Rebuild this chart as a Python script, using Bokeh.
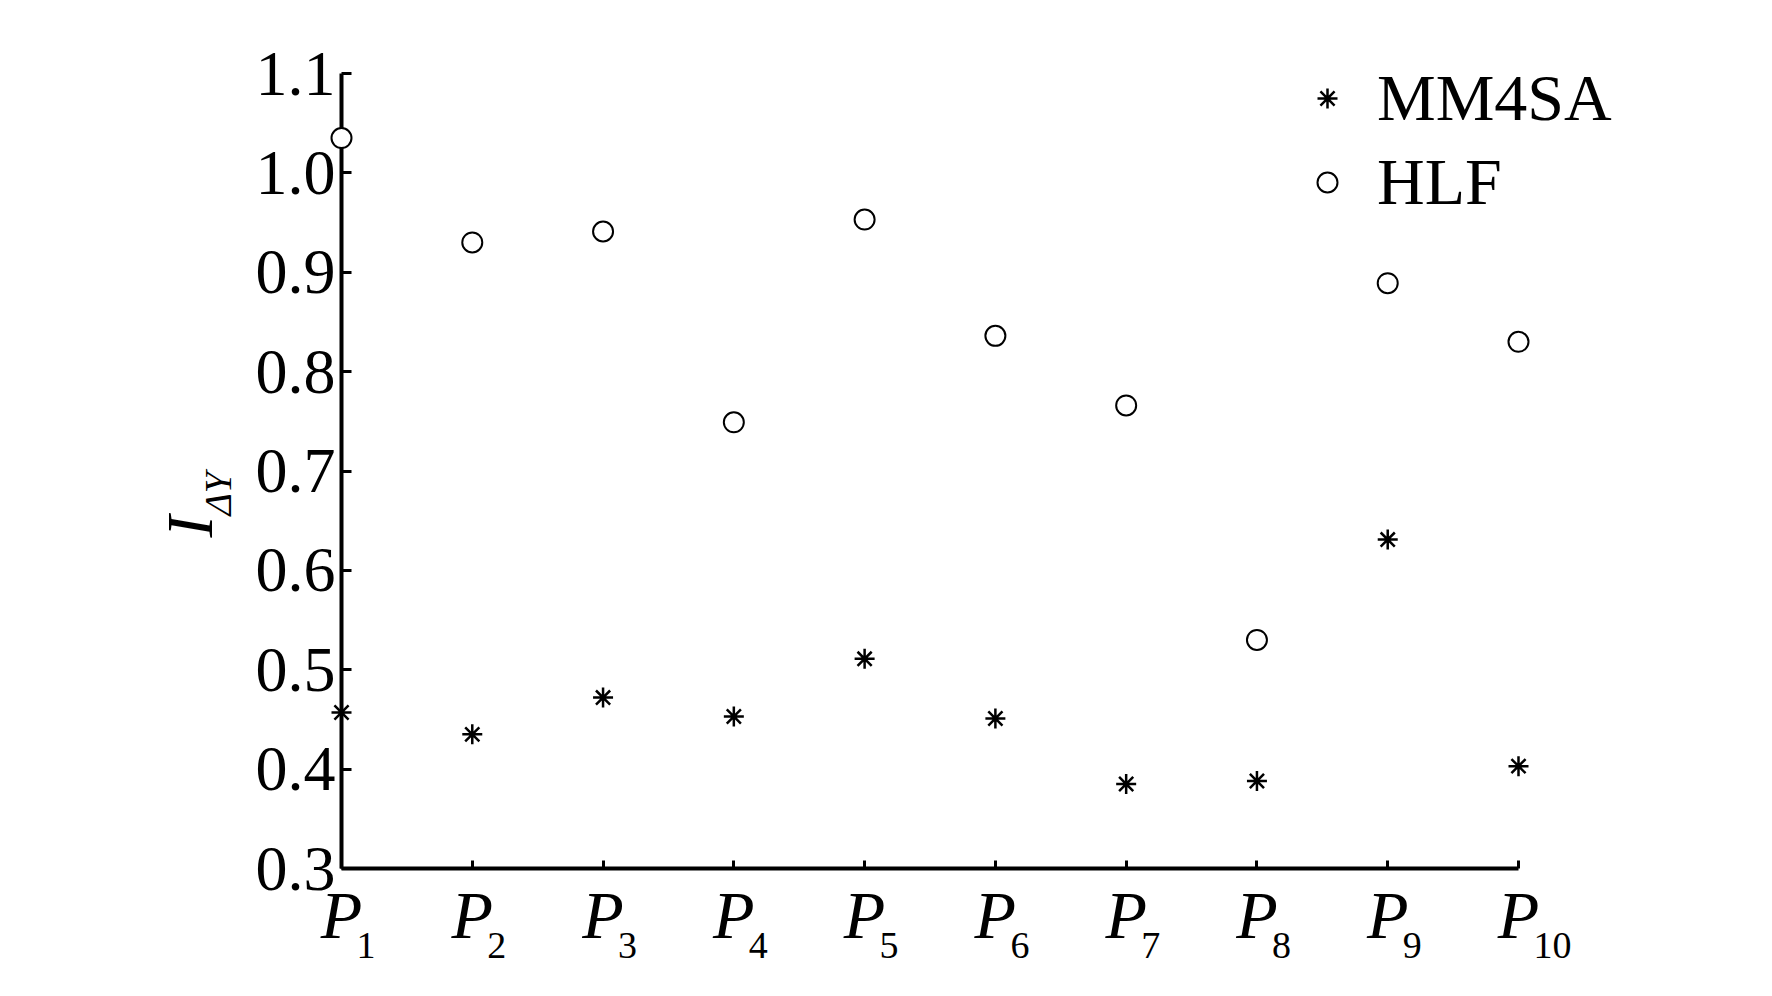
import math
from bokeh.plotting import figure
from bokeh.models import Range1d, FixedTicker, Legend, LegendItem
from bokeh.core.properties import value
from bokeh.embed import file_html
from bokeh.resources import INLINE

# ---- data ----
categories = [1, 2, 3, 4, 5, 6, 7, 8, 9, 10]
x_subscripts = ["1", "2", "3", "4", "5", "6", "7", "8", "9", "10"]
mm4sa = [0.457, 0.435, 0.472, 0.453, 0.511, 0.451, 0.385, 0.388, 0.631, 0.403]
hlf = [1.035, 0.930, 0.941, 0.749, 0.953, 0.836, 0.766, 0.530, 0.889, 0.830]
y_ticks = [0.3, 0.4, 0.5, 0.6, 0.7, 0.8, 0.9, 1.0, 1.1]
y_tick_labels = ["0.3", "0.4", "0.5", "0.6", "0.7", "0.8", "0.9", "1.0", "1.1"]
series_names = ["MM4SA", "HLF"]

FONT = "Liberation Serif"
X0, X1 = 1, 10          # axis extent (x)
Y0, Y1 = 0.3, 1.1       # axis extent (y)
AX_W, AX_H = 1177, 795  # pixel length of the drawn axes
PX_X = AX_W / (X1 - X0)
PX_Y = AX_H / (Y1 - Y0)
LEFT, BOTTOM_Y = 341, 868
FW = 1756 - LEFT - 4
FH = BOTTOM_Y - 8

p = figure(frame_width=FW, frame_height=FH,
           x_range=Range1d(X0, X0 + FW / PX_X),
           y_range=Range1d(Y0, Y0 + FH / PX_Y),
           output_backend="svg", toolbar_location=None,
           min_border_left=LEFT, min_border_top=8,
           min_border_right=4, min_border_bottom=980 - BOTTOM_Y)
p.outline_line_color = None
p.grid.visible = False
p.background_fill_color = "white"

# axes
p.xaxis.ticker = FixedTicker(ticks=categories)
p.yaxis.ticker = FixedTicker(ticks=y_ticks)
p.xaxis.bounds = (X0, X1)
p.yaxis.bounds = (Y0, Y1)
p.yaxis.major_label_overrides = {t: l for t, l in zip(y_ticks, y_tick_labels)}
p.xaxis.major_label_overrides = {c: "P" for c in categories}
for ax in (p.xaxis[0], p.yaxis[0]):
    ax.axis_line_width = 4
    ax.axis_line_color = "black"
    ax.major_tick_line_width = 3
    ax.major_tick_line_color = "black"
    ax.major_tick_out = 0
    ax.minor_tick_line_color = None
    ax.major_label_text_font = FONT
    ax.major_label_text_color = "black"
p.xaxis.major_tick_in = 8
p.yaxis.major_tick_in = 10
p.xaxis.major_label_text_font_size = "68px"
p.xaxis.major_label_text_font_style = "italic"
p.xaxis.major_label_standoff = 8
p.yaxis.major_label_text_font_size = "64px"
p.yaxis.major_label_standoff = 6

# markers
r_mm = p.scatter(categories, mm4sa, marker="asterisk", size=20,
                 line_color="black", line_width=2.5, level="overlay")
r_hlf = p.scatter(categories, hlf, marker="circle", size=20,
                  line_color="black", line_width=2, fill_color="white",
                  level="overlay")

legend = Legend(items=[LegendItem(label=series_names[0], renderers=[r_mm]),
                       LegendItem(label=series_names[1], renderers=[r_hlf])],
                location=(961, 648))
legend.label_text_font = FONT
legend.label_text_font_size = "66px"
legend.label_text_color = "black"
legend.glyph_width = 50
legend.glyph_height = 50
legend.label_standoff = 25
legend.spacing = 8
legend.padding = 0
legend.margin = 0
legend.border_line_color = None
legend.background_fill_alpha = 0
p.add_layout(legend)

# x tick subscripts
p.text(x=categories, y=[Y0 - 77 / PX_Y] * len(categories), text=x_subscripts,
       x_offset=15, text_font=value(FONT), text_font_size="38px",
       text_align="left", text_baseline="middle", text_color="black",
       level="overlay")

# y axis label: I with subscript ΔY (rotated)
p.text(x=[X0 - 152 / PX_X], y=[Y0 + 331 / PX_Y], text=["I"],
       text_font=value(FONT), text_font_style="italic", text_font_size="66px",
       angle=math.pi / 2, text_align="left", text_baseline="middle",
       text_color="black", level="overlay")
p.text(x=[X0 - 124 / PX_X], y=[Y0 + 353 / PX_Y], text=["ΔY"],
       text_font=value(FONT), text_font_style="italic", text_font_size="38px",
       angle=math.pi / 2, text_align="left", text_baseline="middle",
       text_color="black", level="overlay")

open("out.html", "w").write(file_html(p, INLINE))
